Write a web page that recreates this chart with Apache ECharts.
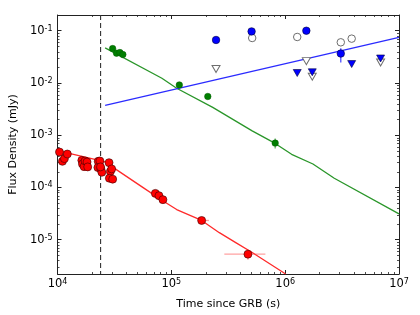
<!DOCTYPE html>
<html><head><meta charset="utf-8">
<script src="https://cdn.jsdelivr.net/npm/echarts@6/dist/echarts.min.js"></script>
<style>html,body{margin:0;padding:0;background:#fff}#c{width:420px;height:315px}</style>
</head><body><div id="c"></div>
<script>
// axis ranges and ticks
const X_MIN = 1e4, X_MAX = 1e7, Y_MIN = 2.2e-6, Y_MAX = 0.2;
const xMinorTicks = [2e4,3e4,4e4,5e4,6e4,7e4,8e4,9e4,2e5,3e5,4e5,5e5,6e5,7e5,8e5,9e5,2e6,3e6,4e6,5e6,6e6,7e6,8e6,9e6];
const yMinorTicks = [3e-6,4e-6,5e-6,6e-6,7e-6,8e-6,9e-6,2e-5,3e-5,4e-5,5e-5,6e-5,7e-5,8e-5,9e-5,2e-4,3e-4,4e-4,5e-4,6e-4,7e-4,8e-4,9e-4,2e-3,3e-3,4e-3,5e-3,6e-3,7e-3,8e-3,9e-3,2e-2,3e-2,4e-2,5e-2,6e-2,7e-2,8e-2,9e-2];
const tBreak = 2.39e4;

// red (X-ray) points
const redT = [1.041e4,1.105e4,1.150e4,1.220e4,1.635e4,1.657e4,1.712e4,1.747e4,1.818e4,1.842e4,2.279e4,2.356e4,2.263e4,2.403e4,2.451e4,2.387e4,2.836e4,2.913e4,2.991e4,2.855e4,3.052e4,7.237e4,7.786e4,8.433e4,1.846e5,4.71e5];
const redF = [4.75e-4,3.16e-4,3.56e-4,4.36e-4,3.30e-4,2.81e-4,2.50e-4,3.21e-4,3.07e-4,2.47e-4,3.16e-4,3.21e-4,2.40e-4,2.26e-4,1.95e-4,2.47e-4,2.98e-4,2.01e-4,2.26e-4,1.50e-4,1.44e-4,7.69e-5,6.95e-5,5.83e-5,2.33e-5,5.27e-6];
const redRelErr = [0.14,0.14,0.14,0.14,0.14,0.14,0.14,0.14,0.14,0.14,0.14,0.14,0.14,0.14,0.14,0.14,0.14,0.14,0.14,0.14,0.14,0.14,0.14,0.14,0.14,0.22];
const redTLo = [null,null,null,null,null,null,null,null,null,null,null,null,null,null,null,null,null,null,null,null,null,null,null,null,1.716e5,2.92e5];
const redTHi = [null,null,null,null,null,null,null,null,null,null,null,null,null,null,null,null,null,null,null,null,null,null,null,null,2.14e5,6.70e5];
const redModelT = [1e4,2.585e4,5.74e4,8.54e4,1.114e5,1.846e5,2.64e5,3.68e5,5.13e5,1.01e6];
const redModelF = [5.05e-4,3.12e-4,9.71e-5,5.42e-5,3.77e-5,2.33e-5,1.36e-5,8.77e-6,5.66e-6,2.2e-6];

// green (optical) points
const greenT = [3.05e4,3.30e4,3.53e4,3.75e4,1.175e5,2.09e5,8.17e5];
const greenF = [0.0455,0.0371,0.0382,0.035,0.00916,0.00551,7.05e-4];
const greenFLo = [null,null,null,null,null,null,5.58e-4];
const greenFHi = [null,null,null,null,null,null,8.65e-4];
const greenModelT = [2.62e4,8.26e4,1.114e5,2.31e5,5.13e5,8.17e5,1.139e6,1.754e6,2.70e6,1e7];
const greenModelF = [0.0469,0.0123,0.00793,0.0034,0.00121,6.95e-4,4.30e-4,2.81e-4,1.50e-4,3.12e-5];

// blue (radio) points
const blueModelT = [2.62e4,1e7];
const blueModelF = [0.00372,0.0747];
const blueDotT = [2.47e5,5.07e5,1.535e6,3.08e6];
const blueDotF = [0.0665,0.097,0.1,0.0366];
const blueDotFLo = [null,null,null,0.0247];
const blueDotFHi = [null,null,null,0.0462];
const openCircT = [5.13e5,1.276e6,3.08e6,3.84e6];
const openCircF = [0.0726,0.0759,0.060,0.0705];
const openTriT = [2.47e5,1.535e6,1.73e6,6.89e6];
const openTriF = [0.01845,0.0262,0.0132,0.0246];
const blueTriT = [1.276e6,1.73e6,3.84e6,6.89e6];
const blueTriF = [0.0155,0.0160,0.023,0.0294];

const zip = (a,b) => a.map((v,i)=>[v,b[i]]);
const FONT = 'DejaVu Sans';
const AX = '#222';

function powLabel(v){
  const e = Math.log10(v); const r = Math.round(e);
  if (Math.abs(e-r) > 1e-6) return '';
  return '{b|10}{s|' + r + '}';
}
const richLab = {
  b:{fontFamily:FONT,fontSize:11.5,color:'#000'},
  s:{fontFamily:FONT,fontSize:8,color:'#000',verticalAlign:'top',padding:[0,0,0,0]}
};

function minorX(params, api){
  const v = api.value(0);
  const b = api.coord([v, Y_MIN]), t = api.coord([v, Y_MAX]);
  const x = Math.round(b[0]) + 0.5;
  const st = {stroke:AX,lineWidth:0.8};
  return {type:'group',children:[
    {type:'line',shape:{x1:x,y1:b[1],x2:x,y2:b[1]-2},style:st},
    {type:'line',shape:{x1:x,y1:t[1],x2:x,y2:t[1]+2},style:st}]};
}
function minorY(params, api){
  const v = api.value(1);
  const l = api.coord([X_MIN, v]), r = api.coord([X_MAX, v]);
  const y = Math.round(l[1]) + 0.5;
  const st = {stroke:AX,lineWidth:0.8};
  return {type:'group',children:[
    {type:'line',shape:{x1:l[0],y1:y,x2:l[0]+2,y2:y},style:st},
    {type:'line',shape:{x1:r[0],y1:y,x2:r[0]-2,y2:y},style:st}]};
}
function errRender(color){
  return function(params, api){
    const x = api.value(0), y = api.value(1);
    const ylo = api.value(2), yhi = api.value(3), xlo = api.value(4), xhi = api.value(5);
    const ch = [];
    const st = {stroke:color,lineWidth:1.3};
    if (ylo > 0 && yhi > 0){
      const a = api.coord([x, ylo]), b = api.coord([x, yhi]);
      ch.push({type:'line',shape:{x1:a[0],y1:a[1],x2:b[0],y2:b[1]},style:st});
    }
    if (xlo > 0 && xhi > 0){
      const a = api.coord([xlo, y]), b = api.coord([xhi, y]);
      ch.push({type:'line',shape:{x1:a[0],y1:a[1],x2:b[0],y2:b[1]},style:st});
    }
    return {type:'group',children:ch};
  };
}

const redErrData = redT.map((t,i)=>[t, redF[i], redF[i]*(1-redRelErr[i]), redF[i]*(1+redRelErr[i]), redTLo[i]||0, redTHi[i]||0]);
const greenErrData = greenT.map((t,i)=>[t, greenF[i], greenFLo[i]||0, greenFHi[i]||0, 0, 0]).filter(d=>d[2]>0);
const blueErrData = blueDotT.map((t,i)=>[t, blueDotF[i], blueDotFLo[i]||0, blueDotFHi[i]||0, 0, 0]).filter(d=>d[2]>0);

const chart = echarts.init(document.getElementById('c'), null, {renderer:'canvas'});
chart.setOption({
  animation:false,
  backgroundColor:'#fff',
  grid:{left:52,right:21,top:15,bottom:38},
  xAxis:[{
    type:'log',logBase:10,min:X_MIN,max:X_MAX,
    name:'Time since GRB (s)',nameLocation:'middle',nameGap:25,
    nameTextStyle:{fontFamily:FONT,fontSize:11,color:'#000'},
    axisLine:{lineStyle:{color:AX,width:1}},
    axisTick:{inside:true,length:4,lineStyle:{color:AX}},
    splitLine:{show:false},
    axisLabel:{formatter:powLabel,rich:richLab,margin:4}
  },{
    type:'log',logBase:10,min:X_MIN,max:X_MAX,position:'top',
    axisLine:{lineStyle:{color:AX,width:1}},
    axisTick:{inside:true,length:4,lineStyle:{color:AX}},
    splitLine:{show:false},axisLabel:{show:false}
  }],
  yAxis:[{
    type:'log',logBase:10,min:Y_MIN,max:Y_MAX,
    name:'Flux Density (mJy)',nameLocation:'middle',nameGap:36,
    nameTextStyle:{fontFamily:FONT,fontSize:11,color:'#000'},
    axisLine:{show:true,lineStyle:{color:AX,width:1}},
    axisTick:{show:true,inside:true,length:4,lineStyle:{color:AX}},
    splitLine:{show:false},
    axisLabel:{formatter:powLabel,rich:richLab,margin:5,showMinLabel:false,showMaxLabel:false}
  },{
    type:'log',logBase:10,min:Y_MIN,max:Y_MAX,position:'right',
    axisLine:{show:true,lineStyle:{color:AX,width:1}},
    axisTick:{show:true,inside:true,length:4,lineStyle:{color:AX}},
    splitLine:{show:false},axisLabel:{show:false}
  }],
  series:[
    {type:'custom',renderItem:minorX,data:xMinorTicks.map(v=>[v,Y_MIN]),silent:true,z:1},
    {type:'custom',renderItem:minorY,data:yMinorTicks.map(v=>[X_MIN,v]),silent:true,z:1},
    {type:'line',data:[[tBreak,Y_MAX],[tBreak,Y_MIN]],symbol:'none',lineStyle:{color:'#333',width:1.1,type:[5,3]},z:2},
    {type:'line',data:zip(redModelT,redModelF),symbol:'none',lineStyle:{color:'#ff2a2a',width:1.3},clip:true,z:2},
    {type:'line',data:zip(greenModelT,greenModelF),symbol:'none',lineStyle:{color:'#2a962a',width:1.3},clip:true,z:2},
    {type:'line',data:zip(blueModelT,blueModelF),symbol:'none',lineStyle:{color:'#2b2bff',width:1.3},clip:true,z:2},
    {type:'custom',renderItem:errRender('rgba(255,70,70,0.5)'),data:redErrData,z:3},
    {type:'custom',renderItem:errRender('rgba(0,128,0,0.6)'),data:greenErrData,z:3},
    {type:'custom',renderItem:errRender('rgba(0,0,255,0.7)'),data:blueErrData,z:3},
    {type:'scatter',data:zip(redT,redF),symbol:'circle',symbolSize:8,itemStyle:{color:'#ff0000',borderColor:'#3a0000',borderWidth:0.6,opacity:1},z:4},
    {type:'scatter',data:zip(greenT,greenF),symbol:'circle',symbolSize:6.5,itemStyle:{color:'#007f00',borderColor:'#005a00',borderWidth:0.5,opacity:1},z:4},
    {type:'scatter',data:zip(openCircT,openCircF),symbol:'circle',symbolSize:7.5,itemStyle:{color:'#fff',borderColor:'#6e6e6e',borderWidth:1,opacity:1},z:4},
    {type:'scatter',data:zip(openTriT,openTriF),symbol:'triangle',symbolRotate:180,symbolSize:[8,7],itemStyle:{color:'#fff',borderColor:'#6e6e6e',borderWidth:1,opacity:1},z:4},
    {type:'scatter',data:zip(blueTriT,blueTriF),symbol:'triangle',symbolRotate:180,symbolSize:[8,7],itemStyle:{color:'#0000ff',borderColor:'#00003a',borderWidth:0.6,opacity:1},z:5},
    {type:'scatter',data:zip(blueDotT,blueDotF),symbol:'circle',symbolSize:7.5,itemStyle:{color:'#0000ff',borderColor:'#00003a',borderWidth:0.6,opacity:1},z:5}
  ]
});
</script>
</body></html>
